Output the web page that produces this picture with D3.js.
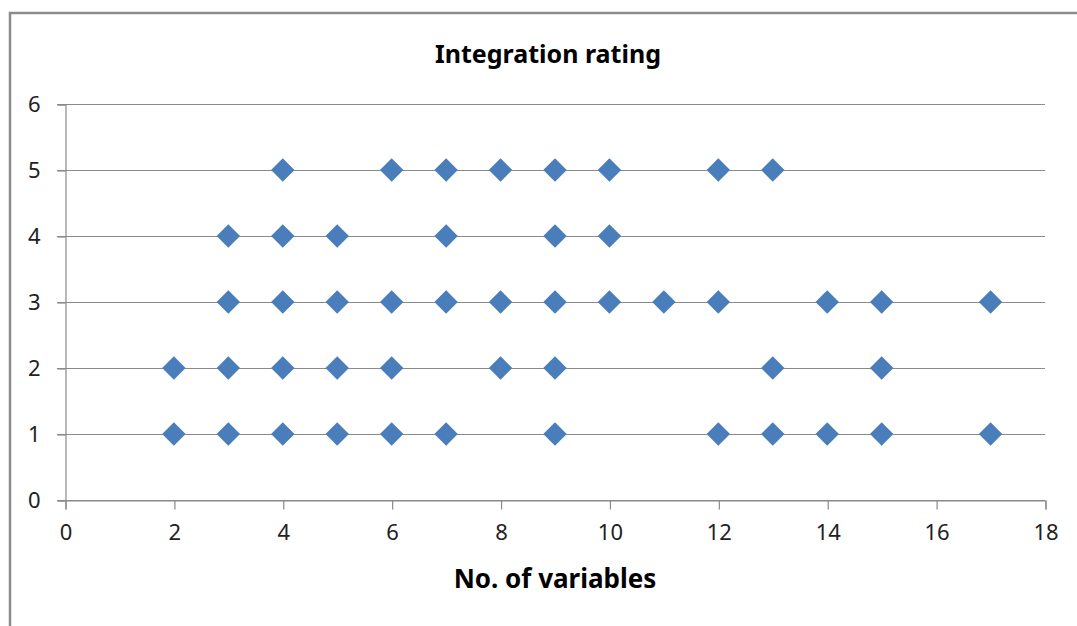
<!DOCTYPE html>
<html>
<head>
<meta charset="utf-8">
<script src="https://cdn.jsdelivr.net/npm/d3@7"></script>
<style>
  body { margin: 0; background: #fff; }
  text { font-family: "Noto Sans", "Liberation Sans", sans-serif; }
</style>
</head>
<body>
<svg id="chart" width="1077" height="626"></svg>
<script>
// points: number of variables per rating level
var rating5 = [4, 6, 7, 8, 9, 10, 12, 13];
var rating4 = [3, 4, 5, 7, 9, 10];
var rating3 = [3, 4, 5, 6, 7, 8, 9, 10, 11, 12, 14, 15, 17];
var rating2 = [2, 3, 4, 5, 6, 8, 9, 13, 15];
var rating1 = [2, 3, 4, 5, 6, 7, 9, 12, 13, 14, 15, 17];
var xTicks = [0, 2, 4, 6, 8, 10, 12, 14, 16, 18];
var yTicks = [0, 1, 2, 3, 4, 5, 6];

var svg = d3.select("#chart"),
    MARGINS = { top: 104, right: 32, bottom: 126, left: 65 },
    WIDTH = 1077, HEIGHT = 626;

// chart border (only top and left show in the frame)
svg.append("path")
   .attr("d", "M10,626 L10,13 L1077,13")
   .attr("fill", "none")
   .attr("stroke", "#8c8c8c")
   .attr("stroke-width", 2.5);

var xScale = d3.scaleLinear().domain([0, 18]).range([MARGINS.left, WIDTH - MARGINS.right]),
    yScale = d3.scaleLinear().domain([0, 6]).range([HEIGHT - MARGINS.bottom, MARGINS.top]);

// horizontal gridlines
svg.append("g")
   .selectAll("line")
   .data(yTicks)
   .enter().append("line")
   .attr("x1", MARGINS.left - 8)
   .attr("x2", WIDTH - MARGINS.right)
   .attr("y1", function(d) { return yScale(d) + 0.5; })
   .attr("y2", function(d) { return yScale(d) + 0.5; })
   .attr("stroke", "#8a8a8a")
   .attr("stroke-width", 1.2);

// y axis
var yAxis = svg.append("g")
   .attr("transform", "translate(" + (MARGINS.left + 0.5) + ",0.5)")
   .call(d3.axisLeft(yScale).tickValues(yTicks).tickFormat(d3.format("d")).tickSize(8).tickPadding(17));

// x axis
var xAxis = svg.append("g")
   .attr("transform", "translate(0.5," + (yScale(0) + 0.5) + ")")
   .call(d3.axisBottom(xScale).tickValues(xTicks).tickFormat(d3.format("d")).tickSize(9).tickPadding(15));

[xAxis, yAxis].forEach(function(ax) {
   ax.attr("font-size", 22).attr("font-family", "'Noto Sans', sans-serif");
   ax.select(".domain").attr("stroke", "#8a8a8a").attr("stroke-width", 1.2);
   ax.selectAll(".tick line").attr("stroke", "#8a8a8a").attr("stroke-width", 1.2);
   ax.selectAll(".tick text").attr("fill", "#222");
});

// points
var series = [[5, rating5], [4, rating4], [3, rating3], [2, rating2], [1, rating1]];
var diamond = d3.symbol().type(d3.symbolDiamond2).size(350);
series.forEach(function(s) {
   svg.append("g")
      .selectAll("path")
      .data(s[1])
      .enter().append("path")
      .attr("d", diamond)
      .attr("transform", function(d) {
         return "translate(" + xScale(d) + "," + yScale(s[0]) + ")";
      })
      .attr("fill", "#4a7ebb");
});

// title
svg.append("text")
   .attr("x", 548)
   .attr("y", 63)
   .attr("text-anchor", "middle")
   .style("font-size", "25px")
   .style("font-weight", "bold")
   .text("Integration rating");

// x axis title
svg.append("text")
   .attr("x", 555)
   .attr("y", 588)
   .attr("text-anchor", "middle")
   .style("font-size", "26px")
   .style("font-weight", "bold")
   .text("No. of variables");
</script>
</body>
</html>
